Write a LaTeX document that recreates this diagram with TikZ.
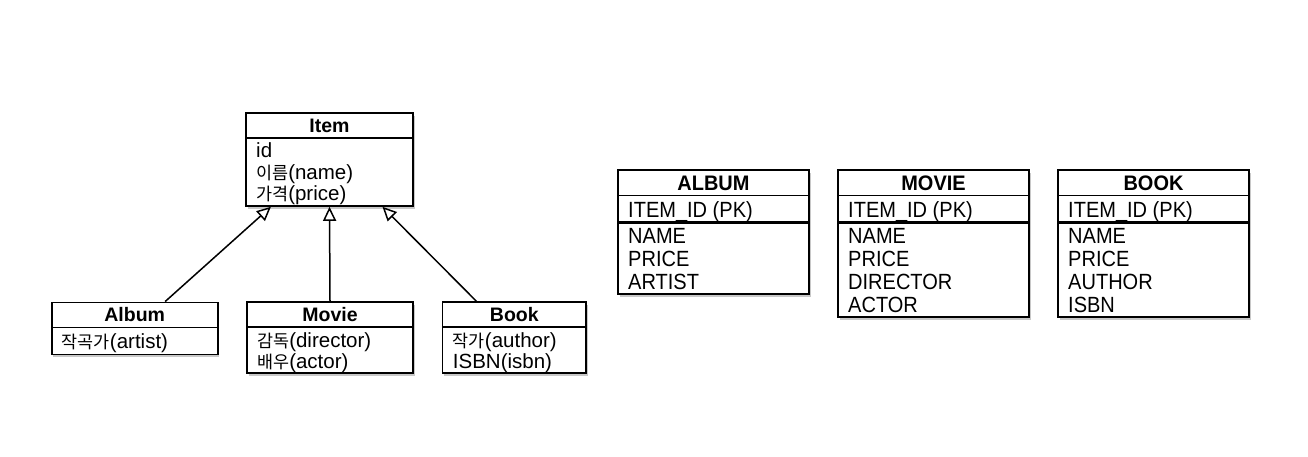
\documentclass[tikz,border=0pt]{standalone}
\usepackage{fontspec}
\setmainfont{Liberation Sans}
\newfontfamily\kr{Noto Sans CJK KR}[Scale=0.85]
\newfontfamily\tabfont{Liberation Sans}[FakeStretch=0.91]
\newfontfamily\tabhfont{Liberation Sans}[FakeStretch=0.95]
\usetikzlibrary{arrows.meta,shadows,calc}
\tikzset{
  box/.style={draw, line width=1.6pt, fill=white, rectangle, inner sep=0pt,
    drop shadow={shadow xshift=1.5pt, shadow yshift=-2.5pt, opacity=0.3, fill=black!70}},
  sep/.style={line width=1.5pt},
  pksep/.style={line width=2.8pt},
  hdr/.style={font=\fontsize{19.5}{24}\selectfont\bfseries, anchor=base, inner sep=0pt},
  attr/.style={font=\fontsize{20.5}{24}\selectfont, anchor=base west, inner sep=0pt},
  thdr/.style={font=\tabhfont\fontsize{21}{24}\selectfont\bfseries, anchor=base, inner sep=0pt},
  tattr/.style={font=\tabfont\fontsize{22}{24}\selectfont, anchor=base west, inner sep=0pt},
  inh/.style={line width=1.5pt, -{Triangle[fill=white, length=14pt, width=13pt, line width=1.5pt]}}
}
\begin{document}
\begin{tikzpicture}[x=1pt, y=-1pt]
\useasboundingbox[fill=white] (0,0) rectangle (1308,456);

% ---------- UML classes ----------
\node[box, minimum width=167pt, minimum height=93pt] (item) at (329.5,159.5) {};
\draw[sep] ($(item.north west)+(0,26)$) -- ($(item.north east)+(0,26)$);
\node[hdr] (itemh) at (329.5,132.3) {Item};
\node[attr] (ia1) at (256,157.7) {id};
\node[attr] (ia2) at (256,179) {{\kr 이름}(name)};
\node[attr] (ia3) at (256,200.5) {{\kr 가격}(price)};

\node[box, minimum width=166pt, minimum height=52pt] (album) at (134.7,328.3) {};
\draw[sep] ($(album.north west)+(0,26)$) -- ($(album.north east)+(0,26)$);
\node[hdr] (albumh) at (134.7,321.7) {Album};
\node[attr] (aa1) at (61.7,348) {{\kr 작곡가}(artist)};

\node[box, minimum width=166pt, minimum height=71pt] (movie) at (330,337.5) {};
\draw[sep] ($(movie.north west)+(0,26)$) -- ($(movie.north east)+(0,26)$);
\node[hdr] (movieh) at (330,321.7) {Movie};
\node[attr] (ma1) at (257,347) {{\kr 감독}(director)};
\node[attr] (ma2) at (257,368.5) {{\kr 배우}(actor)};

\node[box, minimum width=143.5pt, minimum height=71pt] (book) at (514.3,337.5) {};
\draw[sep] ($(book.north west)+(0,26)$) -- ($(book.north east)+(0,26)$);
\node[hdr] (bookh) at (514.3,321.7) {Book};
\node[attr] (ba1) at (452.7,347) {{\kr 작가}(author)};
\node[attr] (ba2) at (452.7,368.5) {ISBN(isbn)};

% ---------- inheritance ----------
\draw[inh] ($(album.north west)+(114.3,0)$) -- ($(item.south west)+(25.7,0)$);
\draw[inh] (movie.north) -- (item.south);
\draw[inh] ($(book.north west)+(34.6,0)$) -- ($(item.south east)+(-31.3,0)$);

% ---------- tables ----------
\node[box, minimum width=191pt, minimum height=124pt] (talbum) at (713.5,232) {};
\draw[sep] ($(talbum.north west)+(0,26.5)$) -- ($(talbum.north east)+(0,26.5)$);
\draw[pksep] ($(talbum.north west)+(0,53)$) -- ($(talbum.north east)+(0,53)$);
\node[thdr] (talbumh) at (713.5,190) {ALBUM};
\node[tattr] (tal0) at (628,217) {ITEM\_ID (PK)};
\node[tattr] (tal1) at (628,243) {NAME};
\node[tattr] (tal2) at (628,266) {PRICE};
\node[tattr] (tal3) at (628,289) {ARTIST};

\node[box, minimum width=191pt, minimum height=147pt] (tmovie) at (933.5,243.5) {};
\draw[sep] ($(tmovie.north west)+(0,26.5)$) -- ($(tmovie.north east)+(0,26.5)$);
\draw[pksep] ($(tmovie.north west)+(0,53)$) -- ($(tmovie.north east)+(0,53)$);
\node[thdr] (tmovieh) at (933.5,190) {MOVIE};
\node[tattr] (tmo0) at (848,217) {ITEM\_ID (PK)};
\node[tattr] (tmo1) at (848,243) {NAME};
\node[tattr] (tmo2) at (848,266) {PRICE};
\node[tattr] (tmo3) at (848,289) {DIRECTOR};
\node[tattr] (tmo4) at (848,312) {ACTOR};

\node[box, minimum width=191pt, minimum height=147pt] (tbook) at (1153.5,243.5) {};
\draw[sep] ($(tbook.north west)+(0,26.5)$) -- ($(tbook.north east)+(0,26.5)$);
\draw[pksep] ($(tbook.north west)+(0,53)$) -- ($(tbook.north east)+(0,53)$);
\node[thdr] (tbookh) at (1153.5,190) {BOOK};
\node[tattr] (tbo0) at (1068,217) {ITEM\_ID (PK)};
\node[tattr] (tbo1) at (1068,243) {NAME};
\node[tattr] (tbo2) at (1068,266) {PRICE};
\node[tattr] (tbo3) at (1068,289) {AUTHOR};
\node[tattr] (tbo4) at (1068,312) {ISBN};
\end{tikzpicture}
\end{document}
